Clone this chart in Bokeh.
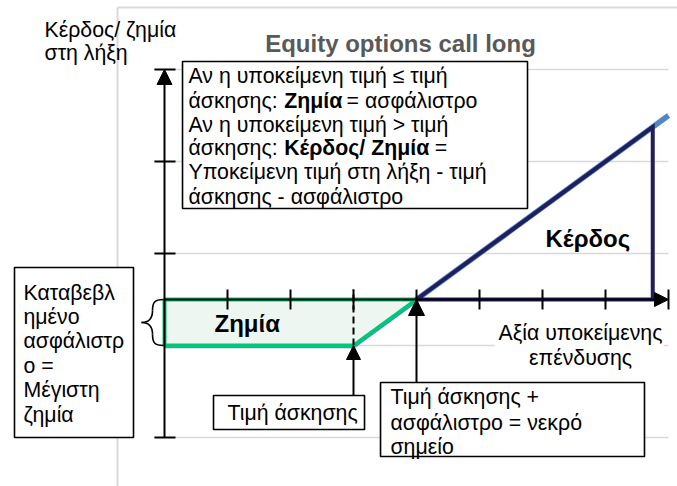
from bokeh.plotting import figure
from bokeh.models import Range1d, Label, Arrow, NormalHead
from bokeh.embed import file_html
from bokeh.resources import INLINE

# ---- data (payoff of a long call, stylised) ----
strike = 30
premium = 10
breakeven = strike + premium
underlying_x = [0, 30, 80]          # underlying value
payoff_y = [-10, -10, 40]           # profit / loss at expiry
loss_x = [0, 40, 30, 0]             # loss area (premium paid)
loss_y = [0, 0, -10, -10]
profit_x = [40, 77.5, 77.5, 40]     # profit triangle
profit_y = [0, 37.5, 0, 0]
x_ticks = [10, 20, 30, 40, 50, 60, 70, 80]
y_grid = [-30, -10, 10, 30, 50]
y_ticks = [-30, 10, 30, 50]

FONT = "Liberation Sans"
BODY = "21.3px"
BIG = "24px"
NAVY = "#221E5E"
GREEN = "#00C878"
LBLUE = "#4F88C8"
GRID = "#D9D9D9"

p = figure(width=677, height=486, x_range=Range1d(-26.032, 81.429),
           y_range=Range1d(-40.652, 65.0), output_backend="svg",
           toolbar_location=None, x_axis_type=None, y_axis_type=None,
           title=None, min_border=0, outline_line_color=None)
p.min_border_left = p.min_border_right = p.min_border_top = p.min_border_bottom = 0
p.grid.visible = False

# chart-area border
p.segment(x0=[-7.46, -7.46], y0=[63.48, 63.48], x1=[-7.46, 82], y1=[-42, 63.48],
          line_color=GRID, line_width=2)

# gridlines
p.segment(x0=[1.75] * len(y_grid), y0=y_grid, x1=[80] * len(y_grid), y1=y_grid,
          line_color=GRID, line_width=1.5)

# white label background for axis title
p.quad(left=[52.4], right=[79.2], top=[-4.8], bottom=[-15.2],
       fill_color="white", line_color=None)

# text boxes
def box(l, r, t, b):
    p.quad(left=[l], right=[r], top=[t], bottom=[b], fill_color="white",
           line_color="black", line_width=1.6)

box(2.86, 57.62, 51.74, 19.78)
box(-23.81, -4.92, 6.96, -30.0)
box(7.78, 31.75, -20.87, -28.26)
box(34.29, 76.19, -18.04, -34.13)

# y axis with arrow and ticks
p.add_layout(Arrow(x_start=0, y_start=-30, x_end=0, y_end=50, line_width=2,
                   line_color="black",
                   end=NormalHead(size=15, fill_color="black", line_color="black")))
p.segment(x0=[-1.6] * len(y_ticks), y0=y_ticks, x1=[1.75] * len(y_ticks), y1=y_ticks,
          line_color="black", line_width=2)

# x axis with arrow
p.add_layout(Arrow(x_start=0, y_start=0, x_end=80, y_end=0, line_width=2,
                   line_color="black",
                   end=NormalHead(size=14, fill_color="black", line_color="black")))

# payoff series
p.line(underlying_x, payoff_y, line_color=LBLUE, line_width=5.5)

# loss area
p.patch(loss_x, loss_y, fill_color="#EEF6F2", line_color=GREEN, line_width=4)

# profit triangle
p.line(profit_x, profit_y, line_color=NAVY, line_width=4, line_join="miter")

# x ticks
p.segment(x0=x_ticks, y0=[-2.17] * len(x_ticks), x1=x_ticks, y1=[2.17] * len(x_ticks),
          line_color="black", line_width=2)

# strike dashed line
p.segment(x0=[strike], y0=[-premium], x1=[strike], y1=[2.17], line_color="black",
          line_width=2, line_dash="7 4")

# pointer arrows
p.add_layout(Arrow(x_start=strike, y_start=-20.87, x_end=strike, y_end=-premium,
                   line_width=2, line_color="black",
                   end=NormalHead(size=14, fill_color="black", line_color="black")))
p.add_layout(Arrow(x_start=breakeven, y_start=-18.04, x_end=breakeven, y_end=0,
                   line_width=2, line_color="black",
                   end=NormalHead(size=16, fill_color="black", line_color="black")))

# brace
p.bezier(x0=[-0.16, -1.90, -3.65, -1.90], y0=[0, -2.39, -5.0, -7.61],
         x1=[-1.90, -3.65, -1.90, -0.16], y1=[-2.39, -5.0, -7.61, -10],
         cx0=[-1.59, -1.90, -2.54, -1.90], cy0=[0, -4.13, -5.0, -9.35],
         cx1=[-1.90, -2.54, -1.90, -1.59], cy1=[-0.65, -5.0, -5.87, -10],
         line_color="black", line_width=1.6)

def lab(x, y, t, size=BODY, bold=False, color="black", align="left"):
    p.add_layout(Label(x=x, y=y, text=t, text_font=FONT, text_font_size=size,
                       text_font_style="bold" if bold else "normal",
                       text_color=color, text_align=align, text_baseline="middle"))

# title and axis titles
lab(37.46, 55.65, "Equity options call long", size=BIG, bold=True,
    color="#595959", align="center")
lab(-19.05, 58.48, "Κέρδος/ ζημία")
lab(-19.05, 53.48, "στη λήξη")
lab(66.03, -7.39, "Αξία υποκείμενης", align="center")
lab(66.03, -12.61, "επένδυσης", align="center")

# big box text
lab(3.81, 48.48, "Αν η υποκείμενη τιμή ≤ τιμή")
lab(3.81, 43.26, "άσκησης:")
lab(19.0, 43.26, "Ζημία", bold=True)
lab(28.9, 43.26, "= ασφάλιστρο")
lab(3.81, 38.04, "Αν η υποκείμενη τιμή > τιμή")
lab(3.81, 32.83, "άσκησης:")
lab(19.0, 32.83, "Κέρδος/ Ζημία", bold=True)
lab(42.9, 32.83, "=")
lab(3.81, 27.61, "Υποκείμενη τιμή στη λήξη - τιμή")
lab(3.81, 22.39, "άσκησης - ασφάλιστρο")

# left box
for yy, t in zip([1.52, -3.70, -9.13, -14.35, -19.78, -25.0],
                 ["Καταβεβλ", "ημένο", "ασφάλιστρ", "ο =", "Μέγιστη", "ζημία"]):
    lab(-22.38, yy, t)

# strike box
lab(10.0, -24.78, "Τιμή άσκησης")

# breakeven box
for yy, t in zip([-21.30, -26.74, -32.17],
                 ["Τιμή άσκησης +", "ασφάλιστρο = νεκρό", "σημείο"]):
    lab(35.87, yy, t)

# area labels
lab(60.48, 13.26, "Κέρδος", size=BIG, bold=True)
lab(7.94, -5.22, "Ζημία", size=BIG, bold=True)

open("out.html", "w").write(file_html(p, INLINE))
